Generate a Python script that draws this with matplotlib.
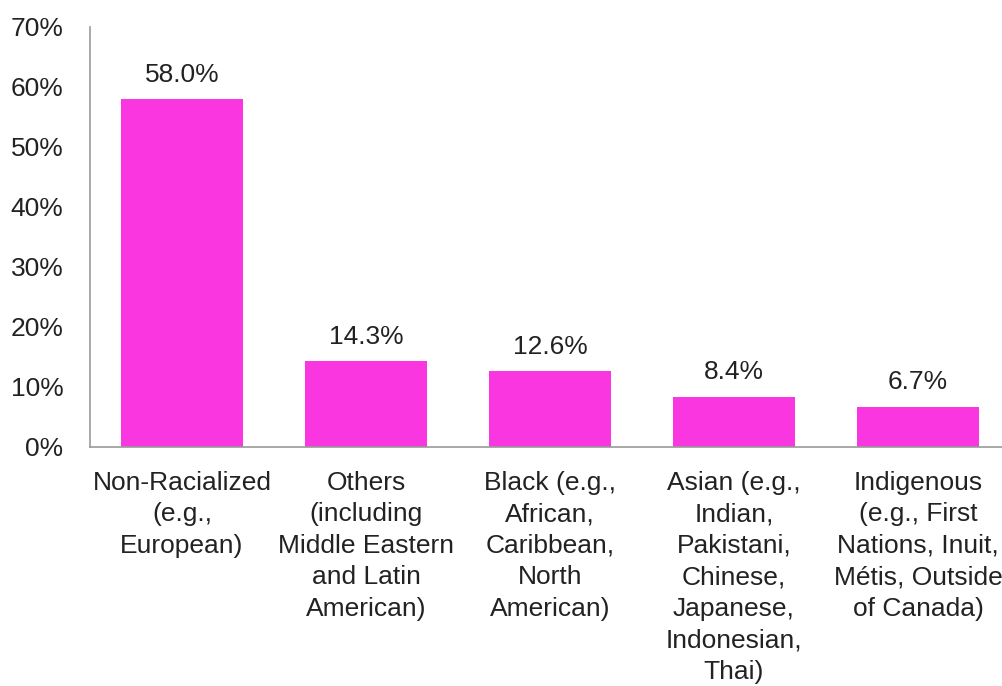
import matplotlib
matplotlib.use("Agg")
import matplotlib.pyplot as plt
from matplotlib.ticker import FuncFormatter, MultipleLocator

categories = [
    "Non-Racialized\n(e.g.,\nEuropean)",
    "Others\n(including\nMiddle Eastern\nand Latin\nAmerican)",
    "Black (e.g.,\nAfrican,\nCaribbean,\nNorth\nAmerican)",
    "Asian (e.g.,\nIndian,\nPakistani,\nChinese,\nJapanese,\nIndonesian,\nThai)",
    "Indigenous\n(e.g., First\nNations, Inuit,\nMétis, Outside\nof Canada)",
]
values = [58.0, 14.3, 12.6, 8.4, 6.7]

plt.rcParams["font.family"] = ["Liberation Sans", "DejaVu Sans"]
text_color = "#222222"
bar_color = "#F936E0"
axis_color = "#999999"
fs = 19

fig = plt.figure(figsize=(10.02, 6.86), dpi=100)
ax = fig.add_axes([90 / 1002, 1 - 447 / 686, 920 / 1002, 420 / 686])

x = list(range(len(categories)))
ax.bar(x, values, width=0.668, color=bar_color, zorder=2)

for xi, v in zip(x, values):
    ax.annotate(f"{v:.1f}%", (xi, v), xytext=(0, 9), textcoords="offset points",
                ha="center", va="bottom", fontsize=fs, color=text_color)

ax.set_xlim(-0.5, 4.5)
ax.set_ylim(0, 70)
ax.yaxis.set_major_locator(MultipleLocator(10))
ax.yaxis.set_major_formatter(FuncFormatter(lambda v, _: f"{v:.0f}%"))
ax.set_xticks(x)
ax.set_xticklabels(categories, linespacing=1.4)

ax.tick_params(axis="y", length=0, pad=19, labelsize=fs, labelcolor=text_color)
ax.tick_params(axis="x", length=0, pad=17, labelsize=fs, labelcolor=text_color)

for side in ("top", "right"):
    ax.spines[side].set_visible(False)
for side in ("left", "bottom"):
    ax.spines[side].set_color(axis_color)
    ax.spines[side].set_linewidth(1.2)
ax.spines["bottom"].set_zorder(3)

fig.savefig("out.png", dpi=100)
